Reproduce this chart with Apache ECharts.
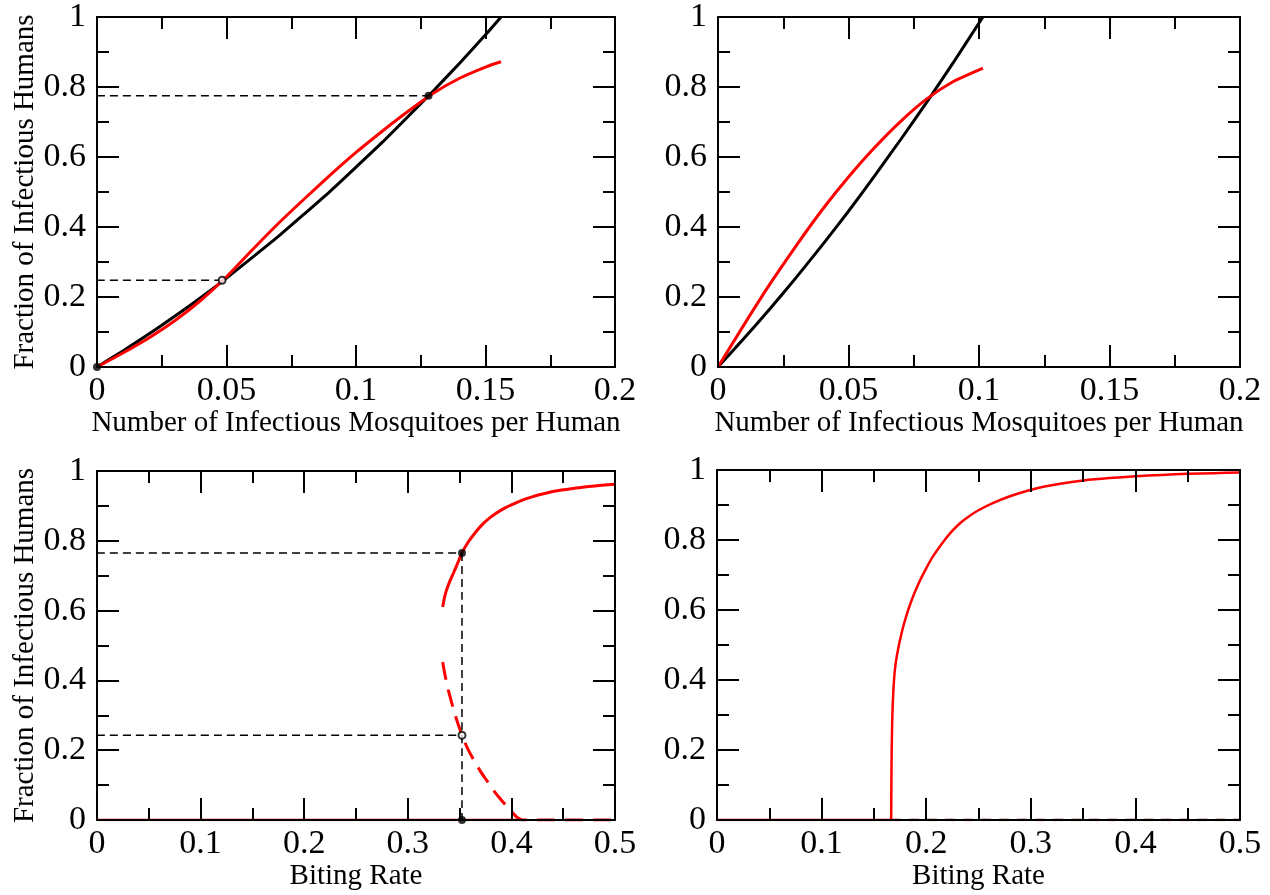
<!DOCTYPE html>
<html>
<head>
<meta charset="utf-8">
<script src="https://cdn.jsdelivr.net/npm/echarts@6/dist/echarts.min.js"></script>
<style>
  html, body { margin: 0; padding: 0; background: #fff; }
  #chart { width: 1270px; height: 895px; }
</style>
</head>
<body>
<div id="chart"></div>
<script>
// top left: mosquitoes per human vs infectious humans
const tlX = [0, 0.01, 0.02, 0.03, 0.04, 0.05, 0.06, 0.07, 0.08, 0.09, 0.1, 0.11, 0.12, 0.13, 0.14, 0.15, 0.156]
const tlBlack = [0, 0.046, 0.094, 0.145, 0.198, 0.254, 0.313, 0.373, 0.437, 0.502, 0.571, 0.641, 0.715, 0.79, 0.868, 0.949, 1.0]
const tlRed = [0, 0.04, 0.083, 0.132, 0.19, 0.258, 0.335, 0.41, 0.48, 0.548, 0.613, 0.673, 0.73, 0.783, 0.825, 0.857, 0.872]
const tlEquilX = [0, 0.0483, 0.128]
const tlEquilY = [0, 0.248, 0.775]

// top right
const trX = [0, 0.01, 0.02, 0.03, 0.04, 0.05, 0.06, 0.07, 0.08, 0.09, 0.1, 0.1015]
const trBlack = [0, 0.082, 0.167, 0.256, 0.349, 0.445, 0.546, 0.65, 0.757, 0.868, 0.983, 1.0]
const trRed = [0, 0.121, 0.238, 0.347, 0.45, 0.543, 0.627, 0.702, 0.766, 0.815, 0.849, 0.854]

// bottom left: bifurcation in biting rate
const blUpperX = [0.3337, 0.335, 0.337, 0.34, 0.344, 0.348, 0.3523, 0.358, 0.365, 0.372, 0.38, 0.39, 0.4, 0.41, 0.42, 0.43, 0.44, 0.45, 0.46, 0.47, 0.48, 0.49, 0.5]
const blUpperY = [0.61, 0.632, 0.655, 0.68, 0.707, 0.735, 0.765, 0.795, 0.823, 0.847, 0.868, 0.888, 0.903, 0.916, 0.926, 0.934, 0.941, 0.946, 0.95, 0.954, 0.957, 0.96, 0.962]
const blLowerX = [0.3337, 0.335, 0.337, 0.3391, 0.342, 0.346, 0.3523, 0.358, 0.364, 0.37, 0.376, 0.382, 0.388, 0.394, 0.3986, 0.402, 0.405, 0.408, 0.411, 0.5]
const blLowerY = [0.453, 0.43, 0.4, 0.372, 0.34, 0.298, 0.243, 0.203, 0.17, 0.14, 0.114, 0.088, 0.065, 0.044, 0.029, 0.018, 0.009, 0.003, 0, 0]
const blZeroX = [0, 0.41]
const blBiteRate = 0.3523
const blHigh = 0.765
const blLow = 0.243

// bottom right
const brX = [0.1665, 0.1667, 0.167, 0.1675, 0.168, 0.1687, 0.1695, 0.1705, 0.172, 0.1745, 0.178, 0.1815, 0.1845, 0.188, 0.192, 0.196, 0.2005, 0.206, 0.211, 0.2164, 0.224, 0.2323, 0.24, 0.25, 0.2642, 0.28, 0.296, 0.312, 0.328, 0.35, 0.375, 0.4, 0.425, 0.45, 0.475, 0.5]
const brY = [0, 0.1, 0.2, 0.28, 0.33, 0.375, 0.41, 0.44, 0.47, 0.508, 0.552, 0.588, 0.615, 0.643, 0.671, 0.696, 0.722, 0.751, 0.773, 0.795, 0.823, 0.848, 0.866, 0.885, 0.906, 0.925, 0.94, 0.952, 0.961, 0.97, 0.977, 0.982, 0.986, 0.989, 0.991, 0.993]
const brZeroX = [0, 0.1665, 0.5]

const FONT = 'Liberation Serif'
const RED = '#ff0000'

const pairs = (xs, ys) => xs.map((x, i) => [x, ys[i]])

const grids = [
  { left: 97, top: 17, width: 518, height: 350 },
  { left: 718, top: 17, width: 522, height: 350 },
  { left: 97, top: 471, width: 518, height: 349 },
  { left: 717, top: 470, width: 523, height: 350 }
]

function axisBase(min, max, interval, showLabel, margin) {
  return {
    type: 'value',
    min: min,
    max: max,
    interval: interval,
    z: 10,
    splitLine: { show: false },
    axisLine: { show: true, onZero: false, lineStyle: { color: '#000', width: 2 } },
    axisTick: { show: true, inside: true, length: 22, lineStyle: { color: '#000', width: 2 } },
    minorTick: { show: true, splitNumber: 2, length: 12, lineStyle: { color: '#000', width: 2 } },
    axisLabel: { show: showLabel, fontFamily: FONT, fontSize: 34, color: '#000', margin: margin }
  }
}

const xAxes = []
const yAxes = []
const xCfg = [
  { max: 0.2, interval: 0.05, name: 'Number of Infectious Mosquitoes per Human' },
  { max: 0.2, interval: 0.05, name: 'Number of Infectious Mosquitoes per Human' },
  { max: 0.5, interval: 0.1, name: 'Biting Rate' },
  { max: 0.5, interval: 0.1, name: 'Biting Rate' }
]
grids.forEach((g, i) => {
  // bottom + top x axes, left + right y axes (ticks mirrored like a frame)
  xAxes.push(Object.assign(axisBase(0, xCfg[i].max, xCfg[i].interval, true, 7), {
    gridIndex: i, position: 'bottom',
    name: xCfg[i].name, nameLocation: 'middle', nameGap: 42,
    nameTextStyle: { fontFamily: FONT, fontSize: 29, color: '#000' }
  }))
  xAxes.push(Object.assign(axisBase(0, xCfg[i].max, xCfg[i].interval, false, 7), {
    gridIndex: i, position: 'top'
  }))
  const yLeft = Object.assign(axisBase(0, 1, 0.2, true, 11), { gridIndex: i, position: 'left' })
  if (i % 2 === 0) {
    Object.assign(yLeft, {
      name: 'Fraction of Infectious Humans', nameLocation: 'middle', nameGap: 54,
      nameTextStyle: { fontFamily: FONT, fontSize: 29, color: '#000' }
    })
  }
  yAxes.push(yLeft)
  yAxes.push(Object.assign(axisBase(0, 1, 0.2, false, 11), { gridIndex: i, position: 'right' }))
})

function curve(grid, data, color, width, dashed, z) {
  return {
    type: 'line',
    xAxisIndex: grid * 2,
    yAxisIndex: grid * 2,
    data: data,
    showSymbol: false,
    smooth: 0.2,
    z: z || 3,
    lineStyle: { color: color, width: width, type: dashed || 'solid' },
    silent: true
  }
}

function dots(grid, data, empty) {
  return {
    type: 'scatter',
    xAxisIndex: grid * 2,
    yAxisIndex: grid * 2,
    data: data,
    symbol: empty ? 'emptyCircle' : 'circle',
    symbolSize: empty ? 7 : 8,
    z: 20,
    itemStyle: { color: '#000', borderWidth: empty ? 1.5 : 0 },
    silent: true
  }
}

const guide = [8, 5]
const series = [
  // top left
  curve(0, [[0, tlEquilY[2]], [tlEquilX[2], tlEquilY[2]]], '#000', 1.5, guide, 4),
  curve(0, [[0, tlEquilY[1]], [tlEquilX[1], tlEquilY[1]]], '#000', 1.5, guide, 4),
  curve(0, pairs(tlX, tlBlack), '#000', 3),
  curve(0, pairs(tlX, tlRed), RED, 3),
  dots(0, [[tlEquilX[0], tlEquilY[0]], [tlEquilX[2], tlEquilY[2]]], false),
  dots(0, [[tlEquilX[1], tlEquilY[1]]], true),
  // top right
  curve(1, pairs(trX, trBlack), '#000', 3),
  curve(1, pairs(trX, trRed), RED, 3),
  // bottom left
  curve(2, blZeroX.map(x => [x, 0]), RED, 2.5),
  curve(2, pairs(blUpperX, blUpperY), RED, 3),
  curve(2, pairs(blLowerX, blLowerY), RED, 3, [18, 10]),
  curve(2, [[0, blHigh], [blBiteRate, blHigh]], '#000', 1.5, guide, 4),
  curve(2, [[0, blLow], [blBiteRate, blLow]], '#000', 1.5, guide, 4),
  curve(2, [[blBiteRate, blHigh], [blBiteRate, 0]], '#000', 1.5, guide, 4),
  dots(2, [[blBiteRate, blHigh], [blBiteRate, 0]], false),
  dots(2, [[blBiteRate, blLow]], true),
  // bottom right
  curve(3, [[brZeroX[0], 0], [brZeroX[1], 0]], RED, 2.5),
  curve(3, [[brZeroX[1], 0], [brZeroX[2], 0]], '#8b0000', 2.5, [10, 8]),
  curve(3, pairs(brX, brY), RED, 2.5)
]

const chart = echarts.init(document.getElementById('chart'))
chart.setOption({
  animation: false,
  backgroundColor: '#fff',
  grid: grids,
  xAxis: xAxes,
  yAxis: yAxes,
  series: series
})
</script>
</body>
</html>
